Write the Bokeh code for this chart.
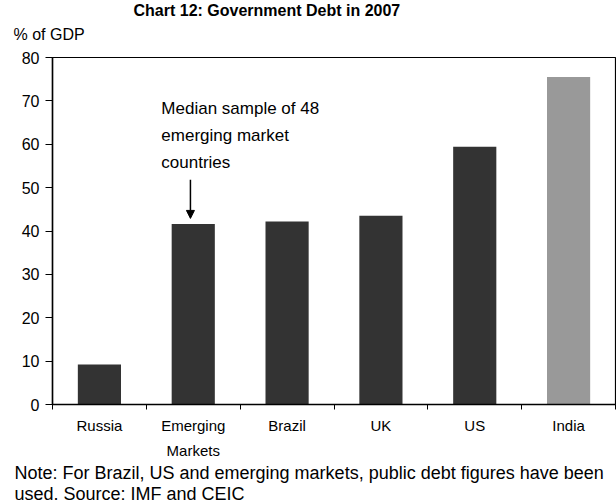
from bokeh.plotting import figure
from bokeh.models import FixedTicker, Label, Arrow, NormalHead, Range1d, Title
from bokeh.embed import file_html
from bokeh.resources import INLINE

categories = ["Russia", "Emerging\nMarkets", "Brazil", "UK", "US", "India"]
values = [9.2, 41.6, 42.2, 43.5, 59.4, 75.5]
colors = ["#333333", "#333333", "#333333", "#333333", "#333333", "#999999"]
y_ticks = [0, 10, 20, 30, 40, 50, 60, 70, 80]

FONT = "Liberation Sans"
W, H = 616, 503

xs = [i + 0.5 for i in range(len(categories))]

p = figure(width=W, height=H, output_backend="svg", toolbar_location=None,
           x_range=Range1d(0, len(categories)), y_range=Range1d(0, 80),
           min_border_left=52, min_border_right=1, min_border_top=57,
           min_border_bottom=98)
p.background_fill_color = "white"
p.border_fill_color = "white"
p.outline_line_color = "black"
p.outline_line_width = 1.2
p.grid.visible = False

p.vbar(x=xs, top=values, width=0.46, color=colors, line_color=None)

# x axis: labels at centres, ticks at boundaries
xa = p.xaxis[0]
xa.ticker = FixedTicker(ticks=xs, minor_ticks=list(range(len(categories) + 1)))
xa.major_label_overrides = {x: c for x, c in zip(xs, categories)}
xa.major_tick_out = 0
xa.major_tick_in = 0
xa.minor_tick_out = 5
xa.minor_tick_in = 0
xa.minor_tick_line_color = "black"
xa.axis_line_color = "black"
xa.axis_line_width = 1.5
xa.major_label_text_font = FONT
xa.major_label_text_font_size = "15px"
xa.major_label_text_line_height = 1.5
xa.major_label_text_color = "black"
xa.major_label_standoff = 7

ya = p.yaxis[0]
ya.ticker = FixedTicker(ticks=y_ticks, minor_ticks=[])
ya.major_tick_out = 7
ya.major_tick_in = 0
ya.major_tick_line_color = "black"
ya.axis_line_color = "black"
ya.axis_line_width = 1.5
ya.major_label_text_font = FONT
ya.major_label_text_font_size = "16px"
ya.major_label_text_color = "black"
ya.major_label_standoff = 6

# titles above (first added = closest to the frame)
p.add_layout(Title(text="% of GDP", text_font=FONT, text_font_size="16px",
                   text_font_style="normal", text_color="black",
                   align="left", offset=-39, standoff=30), "above")
p.title = Title(text="Chart 12: Government Debt in 2007", text_font=FONT,
                text_font_size="16px", text_font_style="bold", text_color="black",
                align="left", offset=81, standoff=-20)

# footnote below
p.add_layout(Title(text="Note: For Brazil, US and emerging markets, public debt figures have been",
                   text_font=FONT, text_font_size="18px", text_font_style="normal",
                   text_color="black", align="left", offset=-38, standoff=-3), "below")
p.add_layout(Title(text="used. Source: IMF and CEIC",
                   text_font=FONT, text_font_size="18px", text_font_style="normal",
                   text_color="black", align="left", offset=-38, standoff=0), "below")

# annotation
em = 1
note_lines = ["Median sample of 48", "emerging market", "countries"]
for k, line in enumerate(note_lines):
    p.add_layout(Label(x=em + 0.16, y=296 - 27 * k, x_units="data", y_units="screen",
                       text=line, text_font=FONT, text_font_size="17px",
                       text_align="left", text_baseline="middle", text_color="black"))
p.add_layout(Arrow(end=NormalHead(size=8, fill_color="black", line_color="black"),
                   x_start=xs[em] - 0.03, y_start=values[em] + 10.2,
                   x_end=xs[em] - 0.03, y_end=values[em] + 1.3,
                   line_color="black", line_width=1.5))

open("out.html", "w").write(file_html(p, INLINE))
